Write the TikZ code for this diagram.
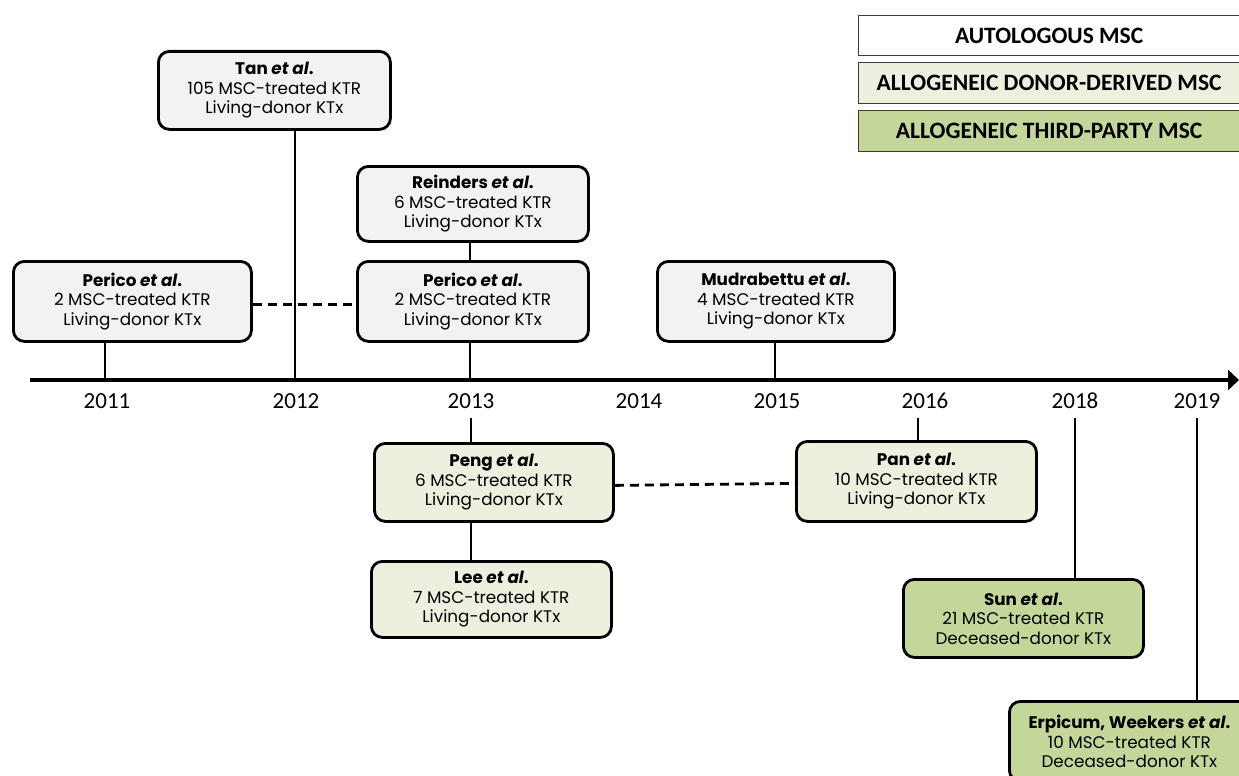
\documentclass[tikz,border=0pt]{standalone}
\usepackage{fontspec}
\setmainfont{Carlito}
\newfontfamily\boxfont{Poppins}
\usetikzlibrary{arrows.meta}
\definecolor{autoc}{RGB}{242,242,242}
\definecolor{donorc}{RGB}{235,241,222}
\definecolor{thirdc}{RGB}{196,215,155}
\definecolor{legline}{RGB}{70,55,55}
\tikzset{
  study/.style={draw=black, line width=2.8pt, rounded corners=11pt, align=center, inner sep=0pt,
    font=\boxfont\fontsize{16.8}{19.5}\selectfont, anchor=north west},
  legend/.style={draw=legline, line width=1.3pt, anchor=north west, inner sep=0pt,
    font=\bfseries\fontsize{23.5}{27}\selectfont},
  stem/.style={line width=2.8pt},
  link/.style={line width=2.8pt, dash pattern=on 9pt off 6pt},
  yr/.style={font=\fontsize{23}{27}\selectfont}
}
\begin{document}
\begin{tikzpicture}[x=1pt,y=-1pt]
\useasboundingbox (0,0) rectangle (1239,776);
% legend
\node[legend, fill=white, minimum width=381pt, minimum height=40pt] (l1) at (858,15) {AUTOLOGOUS MSC};
\node[legend, fill=donorc, minimum width=381pt, minimum height=41pt] (l2) at (858,62) {ALLOGENEIC DONOR-DERIVED MSC};
\node[legend, fill=thirdc, minimum width=381pt, minimum height=41pt] (l3) at (858,110) {ALLOGENEIC THIRD-PARTY MSC};
% timeline
\coordinate (t0) at (30,380);
\coordinate (t1) at (1239,380);
\draw[line width=4.5pt, -{Triangle[length=11pt,width=20pt]}] (t0) -- (t1);
% years
\node[yr] (y2011) at (107,401) {2011};
\node[yr] (y2012) at (296,401) {2012};
\node[yr] (y2013) at (471,401) {2013};
\node[yr] (y2014) at (639,401) {2014};
\node[yr] (y2015) at (777,401) {2015};
\node[yr] (y2016) at (925,401) {2016};
\node[yr] (y2018) at (1075,401) {2018};
\node[yr] (y2019) at (1197,401) {2019};
% autologous boxes
\node[study, fill=autoc, minimum width=232pt, minimum height=78pt] (tan) at (157,50)
  {\textbf{Tan \textit{et al}.}\\105 MSC-treated KTR\\Living-donor KTx};
\node[study, fill=autoc, minimum width=231pt, minimum height=75pt] (reinders) at (356,165)
  {\textbf{Reinders \textit{et al}.}\\6 MSC-treated KTR\\Living-donor KTx};
\node[study, fill=autoc, minimum width=231pt, minimum height=80pt] (perico13) at (356,260)
  {\textbf{Perico \textit{et al}.}\\2 MSC-treated KTR\\Living-donor KTx};
\node[study, fill=autoc, minimum width=238pt, minimum height=80pt] (perico11) at (12,260)
  {\textbf{Perico \textit{et al}.}\\2 MSC-treated KTR\\Living-donor KTx};
\node[study, fill=autoc, minimum width=237pt, minimum height=80pt] (mudra) at (656,260)
  {\textbf{Mudrabettu \textit{et al}.}\\4 MSC-treated KTR\\Living-donor KTx};
% donor-derived
\node[study, fill=donorc, minimum width=239pt, minimum height=78pt] (peng) at (373,442)
  {\textbf{Peng \textit{et al}.}\\6 MSC-treated KTR\\Living-donor KTx};
\node[study, fill=donorc, minimum width=240pt, minimum height=76pt] (lee) at (370,560)
  {\textbf{Lee \textit{et al}.}\\7 MSC-treated KTR\\Living-donor KTx};
\node[study, fill=donorc, minimum width=240pt, minimum height=80pt] (pan) at (795,440)
  {\textbf{Pan \textit{et al}.}\\10 MSC-treated KTR\\Living-donor KTx};
% third-party
\node[study, fill=thirdc, minimum width=240pt, minimum height=78pt] (sun) at (902,578)
  {\textbf{Sun \textit{et al}.}\\21 MSC-treated KTR\\Deceased-donor KTx};
\node[study, fill=thirdc, minimum width=240pt, minimum height=80pt] (erp) at (1008,700)
  {\textbf{Erpicum, Weekers \textit{et al}.}\\10 MSC-treated KTR\\Deceased-donor KTx};
% stems
\coordinate (s2011) at (105,380);
\coordinate (s2012) at (295,380);
\coordinate (s2013) at (470,380);
\coordinate (s2015) at (775,380);
\coordinate (s2013b) at (471,418);
\coordinate (s2016) at (918,418);
\coordinate (s2018) at (1075,418);
\coordinate (s2019) at (1197,418);
\draw[stem] (perico11.south -| s2011) -- (s2011);
\draw[stem] (tan.south -| s2012) -- (s2012);
\draw[stem] (reinders.south -| s2013) -- (perico13.north -| s2013);
\draw[stem] (perico13.south -| s2013) -- (s2013);
\draw[stem] (mudra.south -| s2015) -- (s2015);
\draw[stem] (s2013b) -- (peng.north -| s2013b);
\draw[stem] (peng.south -| s2013b) -- (lee.north -| s2013b);
\draw[stem] (s2016) -- (pan.north -| s2016);
\draw[stem] (s2018) -- (sun.north -| s2018);
\draw[stem] (s2019) -- (erp.north -| s2019);
% dashed links
\draw[link] ([yshift=-3pt]perico11.east) -- ([yshift=-3pt]perico13.west);
\draw[link] ([yshift=-3pt]peng.east) -- ([yshift=-2pt]pan.west);
\end{tikzpicture}
\end{document}
